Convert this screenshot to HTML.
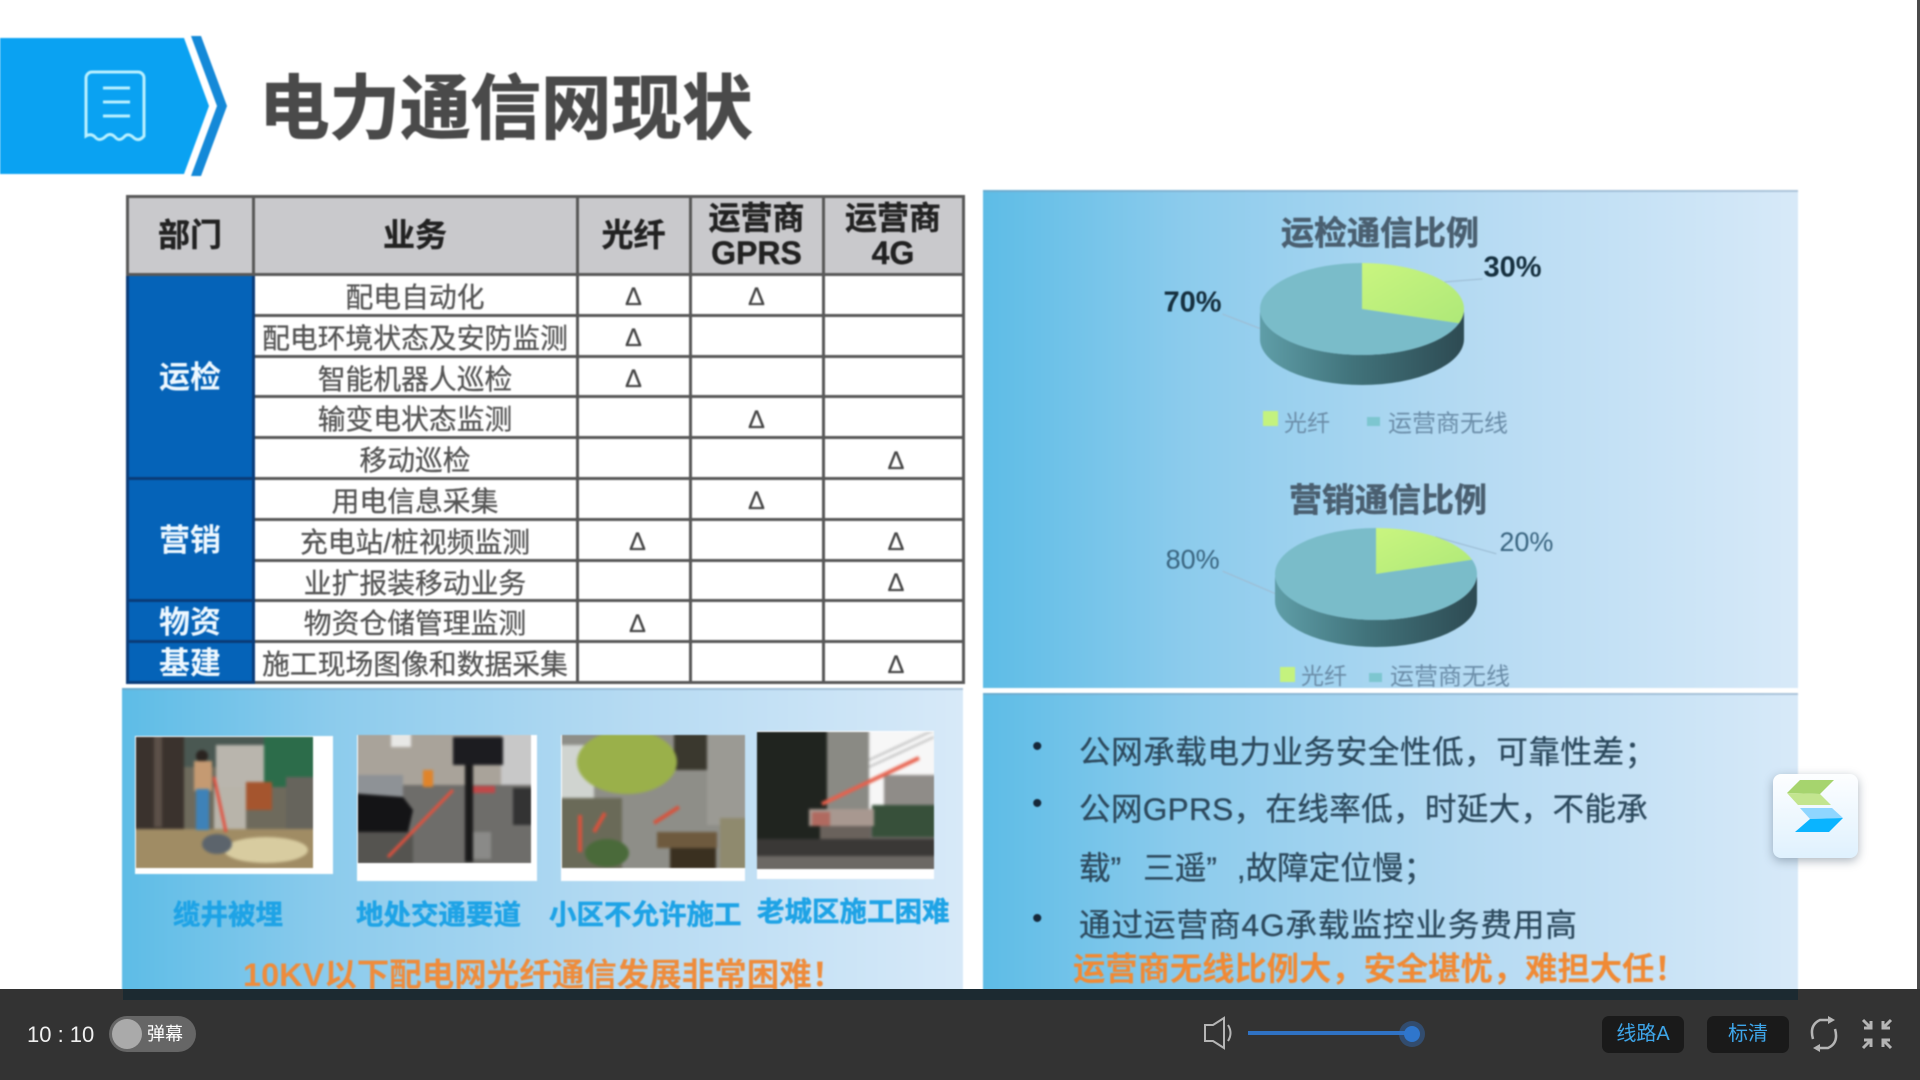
<!DOCTYPE html>
<html lang="zh-CN">
<head>
<meta charset="utf-8">
<title>电力通信网现状</title>
<style>
html,body{margin:0;padding:0;background:#fff}
#page{position:relative;width:1920px;height:1080px;overflow:hidden;background:#fff;font-family:"Liberation Sans","Noto Sans CJK SC",sans-serif}
#slide{position:absolute;left:0;top:0;width:1920px;height:1080px;filter:blur(.9px)}
.abs{position:absolute;white-space:nowrap}
.panel{position:absolute;background:linear-gradient(90deg,#5dbce6 0%,#8ccbec 25%,#b5daf2 60%,#d7e9f8 100%);box-shadow:inset 0 2px 0 rgba(120,150,180,.45)}
table{position:absolute;left:125.5px;top:195px;width:836px;height:486px;border-collapse:collapse;table-layout:fixed;background:#fff}
td,th{border:3px solid #585858;padding:0;text-align:center;vertical-align:middle;font-size:27.8px;line-height:1;color:#555;font-weight:400;white-space:nowrap;-webkit-text-stroke:.3px #555}
td{padding-top:6px;box-sizing:border-box}
th{background:#c9c9cc;color:#222;font-size:32px;font-weight:700;line-height:35px;-webkit-text-stroke:.4px #222}
td.dept{padding-top:2px;background:#0563b8;color:#eef8ff;font-size:31px;font-weight:700;border-color:#0a3c78;border-right-color:#0a3c78;-webkit-text-stroke:0}
td.tri{font-size:25px;color:#444;font-weight:400}
td.off{padding-left:8px}
td.off2{padding-left:6px}
.cap{color:#1ea3e6;font-size:27.5px;font-weight:700;line-height:36px;-webkit-text-stroke:.5px #1ea3e6}
.line{color:#2d4a5e;font-size:31.6px;line-height:44px;-webkit-text-stroke:.3px #2d4a5e}
.dot{color:#16283a;font-size:30px;line-height:30px}
.btn{position:absolute;top:1016px;height:37px;width:82px;background:#1a1a1a;border-radius:7px;color:#3ea6ea;font-size:20px;line-height:37px;text-align:center}
.ph{filter:blur(1.3px)}
</style>
</head>
<body>
<div id="page">
 <div id="slide">

  <svg class="abs" style="left:0;top:30px" width="240" height="155" viewBox="0 30 240 155">
    <polygon points="0,38 184,38 209,106 184,174 0,174" fill="#0aa2f2"/>
    <polygon points="191,36 201,36 227,106 201,176 191,176 217,106" fill="#1489d8"/>
    <path d="M92 72 h46 a6 6 0 0 1 6 6 v58 q-5 6 -10 2 q-6 -6 -10 -1 q-5 5 -9 0 q-5 -5 -10 0 q-6 5 -10 0 q-4 -4 -9 -1 v-58 a6 6 0 0 1 6 -6z" fill="none" stroke="#b8f0ff" stroke-width="3"/>
    <path d="M103 88 h27 M103 102 h27 M103 116 h27" stroke="#b8f0ff" stroke-width="3"/>
  </svg>
  <div class="abs" style="left:259px;top:64px;font-size:70.5px;line-height:90px;font-weight:700;color:#4a4a4a;-webkit-text-stroke:1px #4a4a4a">电力通信网现状</div>

  <table>
    <colgroup><col style="width:126px"><col style="width:324px"><col style="width:113px"><col style="width:133px"><col style="width:140px"></colgroup>
    <tr style="height:78px">
      <th>部门</th><th>业务</th><th>光纤</th><th>运营商<br>GPRS</th><th>运营商<br>4G</th>
    </tr>
    <tr style="height:40.8px"><td class="dept" rowspan="5">运检</td><td>配电自动化</td><td class="tri">Δ</td><td class="tri">Δ</td><td></td></tr>
    <tr style="height:40.8px"><td>配电环境状态及安防监测</td><td class="tri">Δ</td><td></td><td></td></tr>
    <tr style="height:40.8px"><td>智能机器人巡检</td><td class="tri">Δ</td><td></td><td></td></tr>
    <tr style="height:40.8px"><td>输变电状态监测</td><td></td><td class="tri">Δ</td><td></td></tr>
    <tr style="height:40.8px"><td>移动巡检</td><td></td><td></td><td class="tri off2">Δ</td></tr>
    <tr style="height:40.8px"><td class="dept" rowspan="3">营销</td><td>用电信息采集</td><td></td><td class="tri">Δ</td><td></td></tr>
    <tr style="height:40.8px"><td>充电站/桩视频监测</td><td class="tri off">Δ</td><td></td><td class="tri off2">Δ</td></tr>
    <tr style="height:40.8px"><td>业扩报装移动业务</td><td></td><td></td><td class="tri off2">Δ</td></tr>
    <tr style="height:40.8px"><td class="dept">物资</td><td>物资仓储管理监测</td><td class="tri off">Δ</td><td></td><td></td></tr>
    <tr style="height:40.8px"><td class="dept">基建</td><td>施工现场图像和数据采集</td><td></td><td></td><td class="tri off2">Δ</td></tr>
  </table>

  <div class="panel" style="left:983px;top:190px;width:815px;height:498px"></div>
  <div class="panel" style="left:122px;top:688px;width:841px;height:312px"></div>
  <div class="panel" style="left:983px;top:693px;width:815px;height:307px"></div>

  <svg id="pies" class="abs" style="left:983px;top:190px" width="815" height="498" viewBox="983 190 815 498">
    <defs>
      <linearGradient id="sideGrad" x1="0" x2="1" y1="0" y2="0">
        <stop offset="0" stop-color="#5f9ea8"/><stop offset=".45" stop-color="#41737b"/><stop offset="1" stop-color="#2d4a52"/>
      </linearGradient>
      <linearGradient id="fiberGrad" x1="0" x2="1" y1="0" y2="1">
        <stop offset="0" stop-color="#c9f57f"/><stop offset="1" stop-color="#aee878"/>
      </linearGradient>
    </defs>
  </svg>

  <!-- site photos (drawn approximations) -->
  <div class="abs" style="left:135px;top:736px;width:198px;height:138px;background:#fff"></div>
  <div class="abs" style="left:357px;top:735px;width:180px;height:146px;background:#fff"></div>
  <div class="abs" style="left:561px;top:735px;width:184px;height:146px;background:#fff"></div>
  <div class="abs" style="left:757px;top:731px;width:177px;height:148px;background:#fff"></div>

  <svg class="abs" style="left:136px;top:737px" width="177" height="131" viewBox="0 0 177 131">
    <g class="ph">
      <rect x="-10" y="-10" width="197" height="151" fill="#6e6a5c"/>
      <rect x="-10" y="-10" width="197" height="40" fill="#4a5852"/>
      <rect x="80" y="8" width="50" height="52" fill="#b9b5ad"/>
      <rect x="128" y="-10" width="59" height="60" fill="#2c6c4a"/>
      <rect x="150" y="40" width="37" height="60" fill="#66645c"/>
      <rect x="-10" y="-10" width="58" height="104" fill="#3a322d"/>
      <rect x="18" y="-10" width="8" height="100" fill="#5c5048"/>
      <rect x="78" y="50" width="32" height="45" fill="#b8b4aa"/>
      <rect x="110" y="45" width="26" height="28" fill="#a5552e"/>
      <rect x="-10" y="92" width="197" height="49" fill="#a08c64"/>
      <ellipse cx="130" cy="113" rx="42" ry="13" fill="#d8cca0"/>
      <ellipse cx="81" cy="107" rx="15" ry="10" fill="#5c646c"/>
      <circle cx="66" cy="19" r="6" fill="#2a2420"/>
      <rect x="58" y="24" width="18" height="30" fill="#c59a72"/>
      <rect x="60" y="52" width="13" height="41" fill="#3e82b8"/>
      <path d="M78 40 L90 95" stroke="#e2503f" stroke-width="3"/>
    </g>
  </svg>

  <svg class="abs" style="left:358px;top:735px" width="173" height="128" viewBox="0 0 173 128">
    <g class="ph">
      <rect x="-10" y="-10" width="193" height="148" fill="#6e6d6a"/>
      <rect x="-10" y="-10" width="193" height="60" fill="#a9a39a"/>
      <rect x="33" y="-10" width="20" height="22" fill="#e8e8e6"/>
      <rect x="143" y="-10" width="40" height="60" fill="#c8c8c8"/>
      <rect x="-10" y="40" width="55" height="25" fill="#8e9296"/>
      <path d="M-10 58 L45 62 L55 75 L50 97 L-10 97Z" fill="#141416"/>
      <rect x="-10" y="97" width="65" height="40" fill="#555450"/>
      <rect x="65" y="35" width="10" height="17" fill="#e0842a"/>
      <rect x="113" y="51" width="24" height="7" fill="#c04848"/>
      <rect x="155" y="53" width="20" height="37" fill="#333"/>
      <rect x="113" y="97" width="20" height="27" fill="#8a8a88"/>
      <rect x="95" y="2" width="50" height="28" fill="#1c1c20"/>
      <rect x="107" y="30" width="8" height="97" fill="#1a1a1a"/>
      <path d="M30 122 L95 55" stroke="#e8503c" stroke-width="3"/>
    </g>
  </svg>

  <svg class="abs" style="left:562px;top:735px" width="183" height="133" viewBox="0 0 183 133">
    <g class="ph">
      <rect x="-10" y="-10" width="203" height="153" fill="#8e8e88"/>
      <rect x="145" y="-10" width="48" height="100" fill="#9b9a94"/>
      <rect x="112" y="-10" width="33" height="45" fill="#3a382e"/>
      <rect x="-10" y="10" width="42" height="55" fill="#d0d4d0"/>
      <ellipse cx="65" cy="27" rx="50" ry="32" fill="#9ab04a"/>
      <rect x="-10" y="63" width="70" height="80" fill="#6a6a58"/>
      <ellipse cx="45" cy="118" rx="22" ry="14" fill="#4a6a3a"/>
      <rect x="95" y="97" width="60" height="16" fill="#6e5a3e"/>
      <rect x="108" y="113" width="46" height="30" fill="#3a3020"/>
      <rect x="158" y="83" width="35" height="60" fill="#8f8a6e"/>
      <path d="M18 117 L18 80 M32 97 L43 78 M92 88 L117 72" stroke="#d8523c" stroke-width="4"/>
    </g>
  </svg>

  <svg class="abs" style="left:757px;top:732px" width="177" height="137" viewBox="0 0 177 137">
    <g class="ph">
      <rect x="-10" y="-10" width="197" height="157" fill="#6c6864"/>
      <rect x="110" y="-10" width="77" height="100" fill="#f7f7f7"/>
      <rect x="127" y="43" width="60" height="37" fill="#8f8c88"/>
      <rect x="62" y="-10" width="50" height="87" fill="#8a8a84"/>
      <rect x="115" y="73" width="72" height="32" fill="#37503a"/>
      <rect x="-10" y="-10" width="80" height="117" fill="#20241f"/>
      <rect x="52" y="77" width="65" height="17" fill="#a89890"/>
      <rect x="55" y="80" width="18" height="14" fill="#b06a60"/>
      <rect x="63" y="94" width="50" height="26" fill="#6a625c"/>
      <rect x="-10" y="107" width="197" height="17" fill="#3a3836"/>
      <path d="M65 72 L162 26" stroke="#e8604c" stroke-width="4"/>
      <path d="M112 35 L177 5 M112 28 L177 -2" stroke="#aaa" stroke-width="1.5"/>
    </g>
  </svg>

  <div class="abs cap" style="left:173px;top:897px">缆井被埋</div>
  <div class="abs cap" style="left:356px;top:897px">地处交通要道</div>
  <div class="abs cap" style="left:549px;top:897px">小区不允许施工</div>
  <div class="abs cap" style="left:757px;top:894px">老城区施工困难</div>
  <div class="abs" style="left:243px;top:955px;font-size:32.5px;line-height:40px;font-weight:700;color:#ee8c3c">10KV以下配电网光纤通信发展非常困难！</div>

  <div class="abs dot" style="left:1032px;top:732px">•</div>
  <div class="abs line" style="left:1079px;top:729.5px;letter-spacing:.5px">公网承载电力业务安全性低，可靠性差；</div>
  <div class="abs dot" style="left:1032px;top:789px">•</div>
  <div class="abs line" style="left:1079px;top:786.5px;letter-spacing:.3px">公网GPRS，在线率低，时延大，不能承</div>
  <div class="abs line" style="left:1079px;top:845.5px">载”<span style="margin-left:22px">三遥”</span><span style="margin-left:20px">,故障定位慢；</span></div>
  <div class="abs dot" style="left:1032px;top:904px">•</div>
  <div class="abs line" style="left:1079px;top:903px;letter-spacing:.9px">通过运营商4G承载监控业务费用高</div>
  <div class="abs" style="left:1073px;top:949px;font-size:32.3px;line-height:40px;font-weight:700;color:#f08a35">运营商无线比例大，安全堪忧，难担大任！</div>
 </div>

 <div class="abs" style="left:1917px;top:0;width:3px;height:989px;background:#4a4a4a"></div>

 <svg class="abs" style="left:1765px;top:765px;filter:drop-shadow(0 3px 5px rgba(70,90,110,.45))" width="100" height="100" viewBox="0 0 100 100">
   <defs><linearGradient id="cardGrad" x1="0" x2="0" y1="0" y2="1"><stop offset="0" stop-color="#fdfeff"/><stop offset="1" stop-color="#dff1fe"/></linearGradient></defs>
   <rect x="8" y="9" width="85" height="84" rx="8" fill="url(#cardGrad)"/>
   <polygon points="22,28 35,15 69,15 55,29" fill="#a6d46e"/>
   <polygon points="22,28 55,29 66,40 33,40" fill="#c3e58f"/>
   <polygon points="35,43 67,43 78,53 45,54" fill="#8fd6ff"/>
   <polygon points="45,54 78,53 64,67 30,67" fill="#0ab4ff"/>
 </svg>

 <div class="abs" style="left:0;top:989px;width:1920px;height:91px;background:#333"></div>
 <div class="abs" style="left:123px;top:989px;width:1675px;height:11px;background:#1c2a31"></div>
 <div class="abs" style="left:27px;top:1021px;font-size:22px;line-height:28px;color:#f0f0f0">10 : 10</div>
 <div class="abs" style="left:109px;top:1016px;width:87px;height:36px;border-radius:18px;background:#666">
   <div class="abs" style="left:3px;top:3px;width:30px;height:30px;border-radius:50%;background:#aaa"></div>
   <div class="abs" style="left:38px;top:5px;font-size:18px;line-height:26px;color:#fff">弹幕</div>
 </div>
 <svg class="abs" style="left:1200px;top:1014px" width="36" height="38" viewBox="0 0 36 38">
   <path d="M5 11 h8 l11 -7 v30 l-11 -7 h-8z M28 11 q5 8 0 16" fill="none" stroke="#b5b5b5" stroke-width="2"/>
 </svg>
 <div class="abs" style="left:1248px;top:1031px;width:163px;height:4px;background:#2f72c4"></div>
 <div class="abs" style="left:1399px;top:1021px;width:26px;height:26px;border-radius:50%;background:rgba(50,115,200,.4)"></div>
 <div class="abs" style="left:1404px;top:1026px;width:16px;height:16px;border-radius:50%;background:#2f76cc"></div>
 <div class="btn" style="left:1602px">线路A</div>
 <div class="btn" style="left:1707px">标清</div>
 <svg class="abs" style="left:1808px;top:1015px" width="32" height="38" viewBox="0 0 32 38">
   <path d="M5 24 Q1 10 12 5 H24 M27 14 Q31 28 20 33 H8" fill="none" stroke="#b5b5b5" stroke-width="2.5"/>
   <path d="M20 1 L27 5 L20 9z M12 29 L5 33 L12 37z" fill="#b5b5b5"/>
 </svg>
 <svg class="abs" style="left:1860px;top:1017px" width="34" height="34" viewBox="0 0 34 34">
   <path d="M3 3 L11 11 M11 4 V11 H4 M31 3 L23 11 M23 4 V11 H30 M3 31 L11 23 M11 30 V23 H4 M31 31 L23 23 M23 30 V23 H30" fill="none" stroke="#b5b5b5" stroke-width="3"/>
 </svg>
</div>

<script>
// Chart data
const pieCategories = ['光纤', '运营商无线'];
const opsShares = [30, 70];
const salesShares = [20, 80];
const opsTitle = '运检通信比例';
const salesTitle = '营销通信比例';

const svgNS = 'http://www.w3.org/2000/svg';
const root = document.getElementById('pies');

function make(tag, attrs, text) {
  const el = document.createElementNS(svgNS, tag);
  for (const k in attrs) el.setAttribute(k, attrs[k]);
  if (text !== undefined) el.textContent = text;
  root.appendChild(el);
  return el;
}

function drawPie(values, title, layout) {
  const sum = values.reduce((a, b) => a + b, 0);
  const cx = layout.cx, cy = layout.cy, rx = layout.rx, ry = layout.ry, d = layout.depth;
  const pt = a => [cx + rx * Math.sin(a), cy - ry * Math.cos(a)];
  const sliceColors = ['url(#fiberGrad)', '#7abcc9'];
  const font = '"Liberation Sans","Noto Sans CJK SC",sans-serif';

  const heading = make('text', {x: layout.titleX, y: layout.titleY, 'font-size': 33, 'font-weight': 700, fill: '#4a5f70', stroke: '#4a5f70', 'stroke-width': .5, 'text-anchor': 'middle', 'dominant-baseline': 'middle', 'font-family': font}, title);
  
  

  // leader lines sit under the pie so only the part outside the disc shows
  let start = 0;
  values.forEach((v, i) => {
    const end = start + 2 * Math.PI * v / sum;
    const rim = pt((start + end) / 2);
    const shift = layout.labelShift[i];
    const dir = shift[0] > 0 ? -1 : 1;
    const leader = make('line', {x1: rim[0], y1: rim[1], x2: rim[0] + shift[0] + dir * 30, y2: rim[1] + shift[1] + 10, stroke: '#9dbdd4', 'stroke-width': 1.2});
    
    
    start = end;
  });

  const side = make('path', {d: `M${cx - rx} ${cy} A${rx} ${ry} 0 0 0 ${cx + rx} ${cy} L${cx + rx} ${cy + d} A${rx} ${ry} 0 0 1 ${cx - rx} ${cy + d} Z`, fill: 'url(#sideGrad)'});
  
  

  let a0 = 0;
  values.forEach((v, i) => {
    const a1 = a0 + 2 * Math.PI * v / sum;
    const p0 = pt(a0), p1 = pt(a1);
    const big = a1 - a0 > Math.PI ? 1 : 0;
    const slice = make('path', {d: `M${cx} ${cy} L${p0[0]} ${p0[1]} A${rx} ${ry} 0 ${big} 1 ${p1[0]} ${p1[1]} Z`, fill: sliceColors[i]});
    
    

    const rim = pt((a0 + a1) / 2);
    const shift = layout.labelShift[i];
    const label = make('text', {x: rim[0] + shift[0], y: rim[1] + shift[1], 'font-size': layout.labelSize, 'font-weight': layout.labelWeight, fill: layout.labelColor, 'text-anchor': 'middle', 'dominant-baseline': 'middle', 'font-family': font}, v + '%');
    
    
    a0 = a1;
  });

  const swatchBig = make('rect', {x: layout.legendX, y: layout.legendY - 8, width: 15, height: 15, fill: '#c4f27e'});
  
  
  const fiberText = make('text', {x: layout.legendX + 21, y: layout.legendY + layout.legendTextDy, 'font-size': 23, fill: '#6b8da8', 'dominant-baseline': 'middle', 'font-family': font}, pieCategories[0]);
  
  
  const swatchSmall = make('rect', {x: layout.legendX2, y: layout.legendY - 2, width: 13, height: 9, fill: '#7dc6d0'});
  
  
  const wirelessText = make('text', {x: layout.legendX2 + 21, y: layout.legendY + layout.legendTextDy, 'font-size': 24, fill: '#6b8da8', 'dominant-baseline': 'middle', 'font-family': font}, pieCategories[1]);
  
  
}

drawPie(opsShares, opsTitle, {cx: 1362, cy: 309, rx: 102, ry: 46, depth: 30, titleX: 1380, titleY: 236,
  labelShift: [[68, -13], [-87, -32]], labelSize: 29, labelWeight: 700, labelColor: '#16303f',
  legendX: 1263, legendX2: 1367, legendY: 419, legendTextDy: 6});
drawPie(salesShares, salesTitle, {cx: 1376, cy: 574, rx: 101, ry: 46, depth: 27, titleX: 1388, titleY: 503,
  labelShift: [[91, 7], [-124, -50]], labelSize: 27, labelWeight: 400, labelColor: '#3a6580',
  legendX: 1280, legendX2: 1369, legendY: 675, legendTextDy: 3});
</script>
</body>
</html>
